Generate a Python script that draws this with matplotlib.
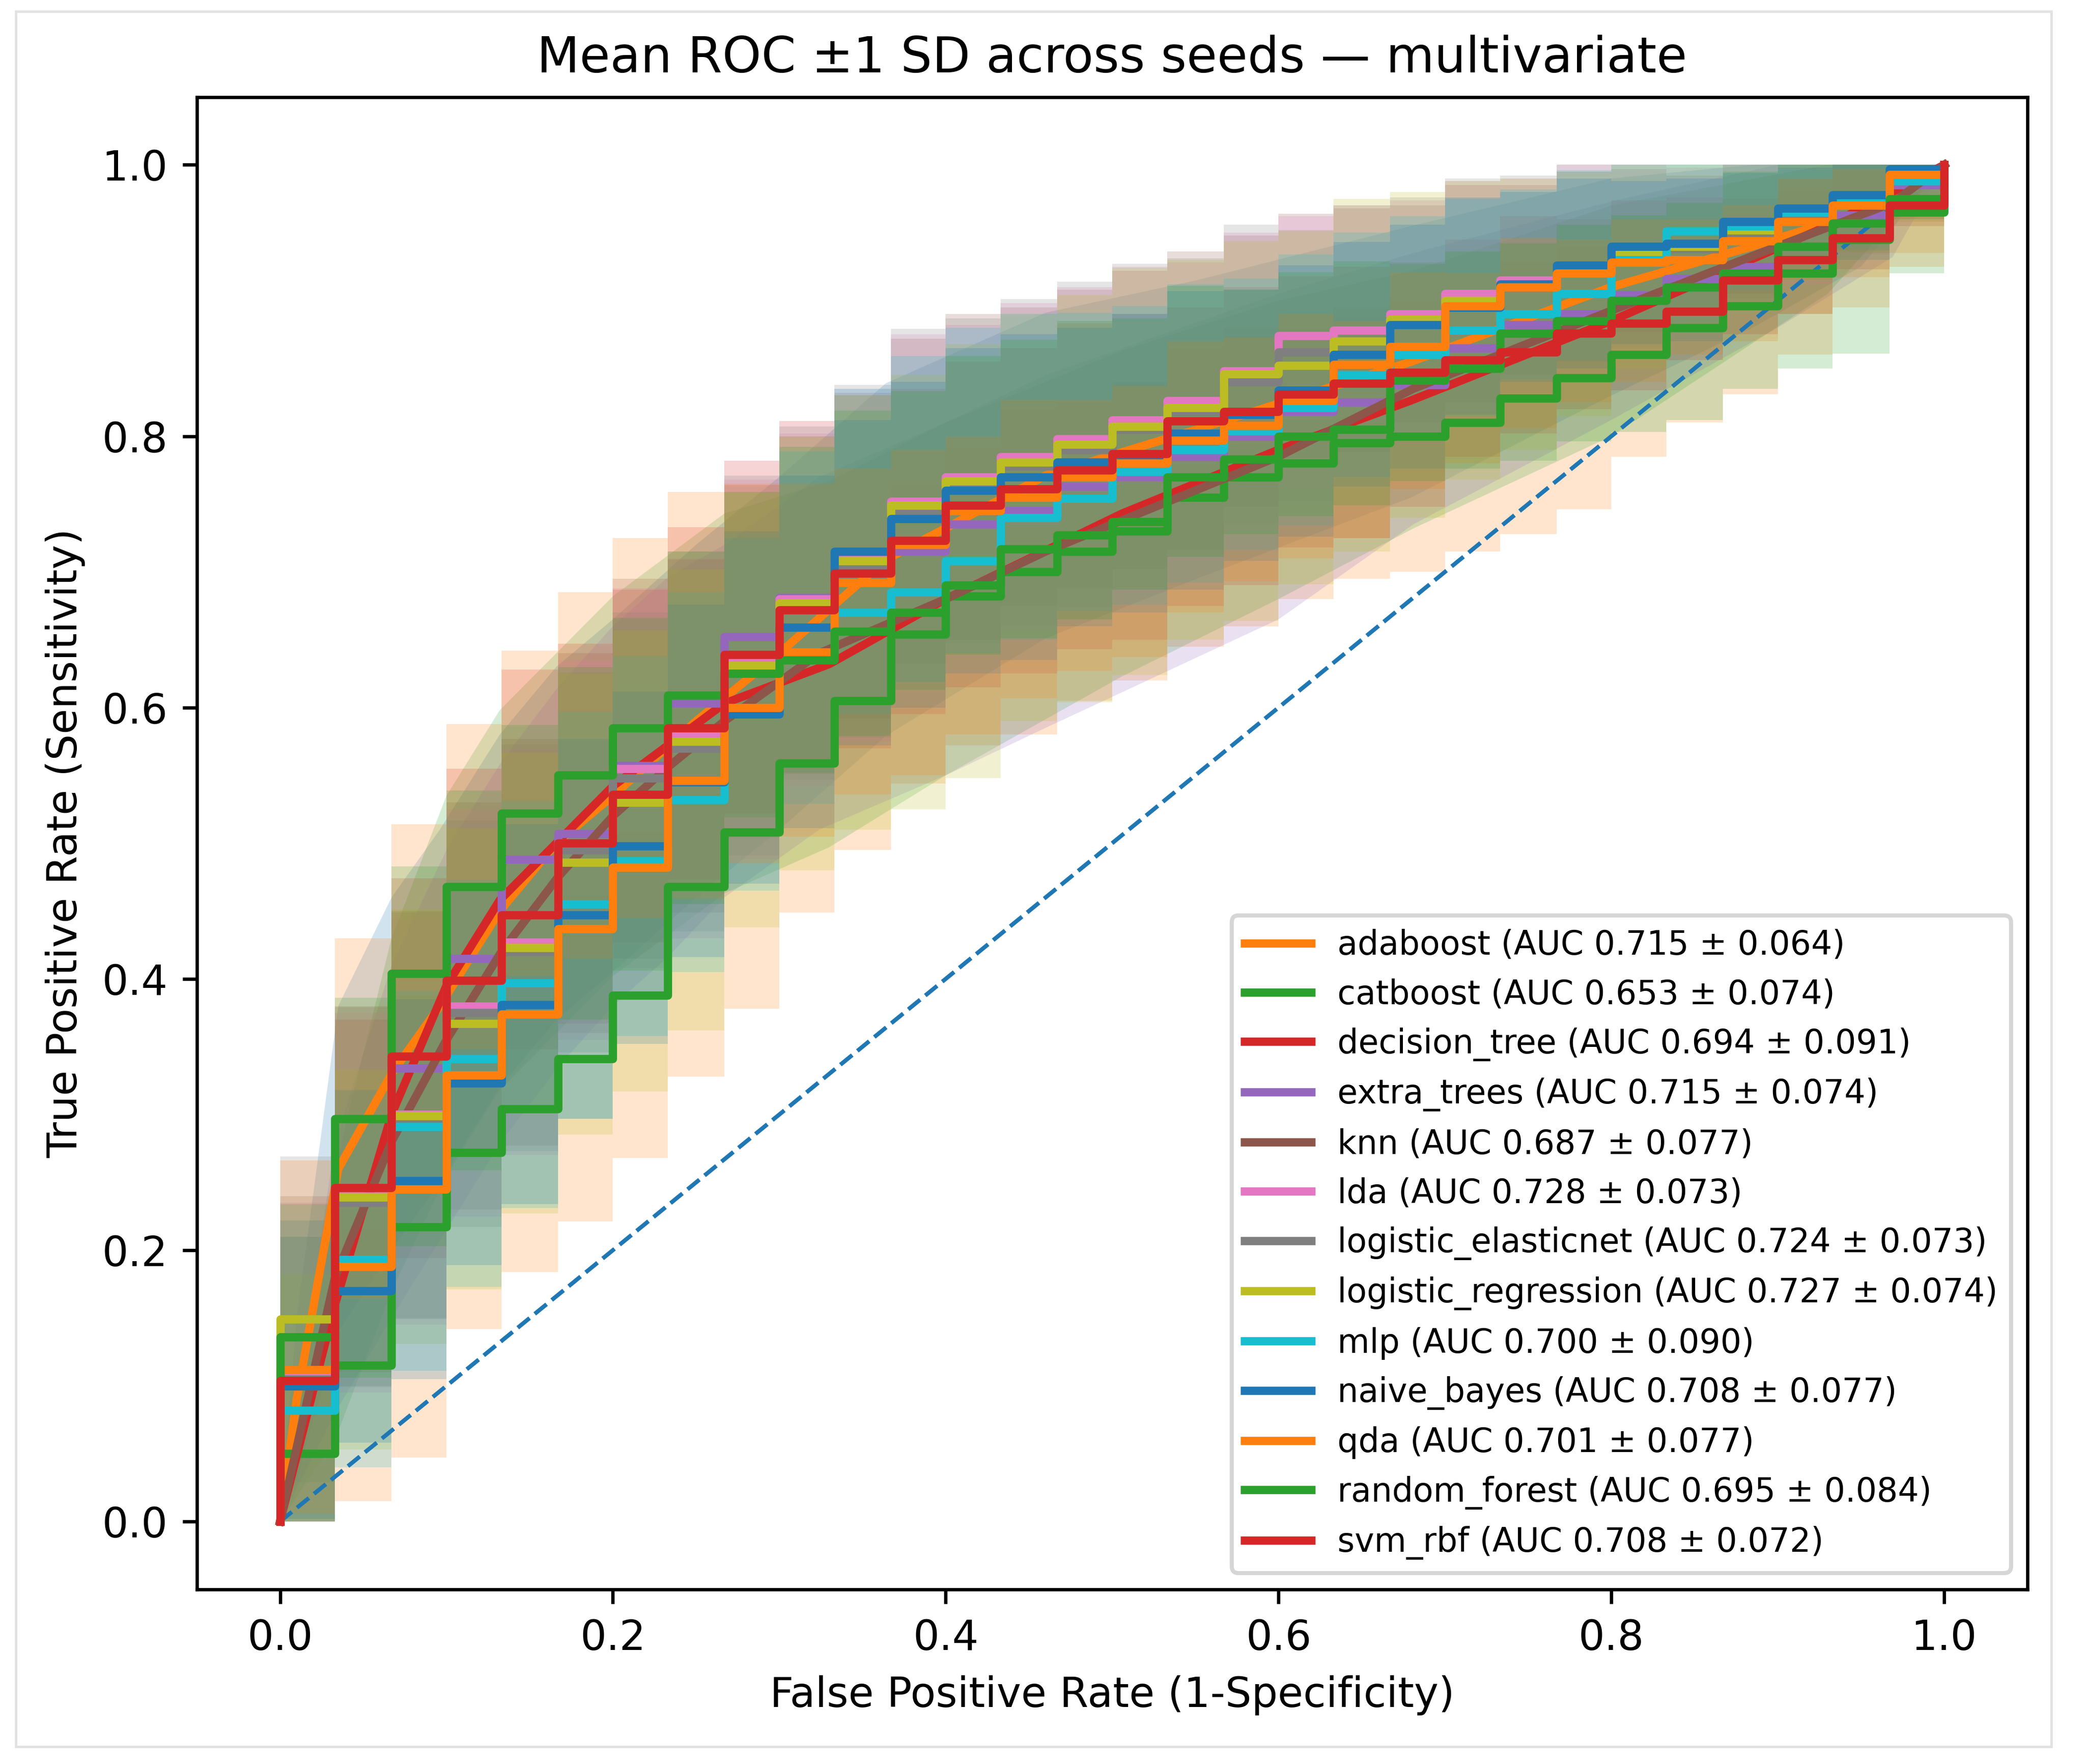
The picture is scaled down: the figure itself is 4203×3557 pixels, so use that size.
import numpy as np
import matplotlib
matplotlib.use("Agg")
import matplotlib.pyplot as plt
from matplotlib.patches import Rectangle

# common FPR grid of the stepped mean curves (left edge of each level, plus 1.0)
FPR_GRID = [0.000, 0.033, 0.067, 0.100, 0.133, 0.167, 0.200, 0.233, 0.267, 0.300,
            0.333, 0.367, 0.400, 0.433, 0.467, 0.500, 0.533, 0.567, 0.600, 0.633,
            0.667, 0.700, 0.733, 0.767, 0.800, 0.833, 0.867, 0.900, 0.933, 0.967, 1.000]

MODELS = ["adaboost", "catboost", "decision_tree", "extra_trees", "knn", "lda",
          "logistic_elasticnet", "logistic_regression", "mlp", "naive_bayes",
          "qda", "random_forest", "svm_rbf"]
AUC_MEAN = [0.715, 0.653, 0.694, 0.715, 0.687, 0.728, 0.724, 0.727, 0.700, 0.708, 0.701, 0.695, 0.708]
AUC_SD = [0.064, 0.074, 0.091, 0.074, 0.077, 0.073, 0.073, 0.074, 0.090, 0.077, 0.077, 0.084, 0.072]

# stepped mean TPR levels (one per FPR_GRID interval) and their SD
catboost_tpr = [0.050, 0.115, 0.217, 0.272, 0.304, 0.341, 0.388, 0.468, 0.508, 0.559,
                0.605, 0.654, 0.682, 0.700, 0.715, 0.730, 0.755, 0.770, 0.780, 0.795,
                0.800, 0.810, 0.828, 0.843, 0.860, 0.880, 0.896, 0.920, 0.945, 0.965]
catboost_sd = [0.05, 0.10, 0.17, 0.13, 0.12, 0.12, 0.12, 0.14, 0.13, 0.11,
               0.11, 0.11, 0.11, 0.12, 0.11, 0.11, 0.11, 0.11, 0.10, 0.10,
               0.10, 0.095, 0.10, 0.097, 0.075, 0.07, 0.065, 0.06, 0.05, 0.04]
extra_trees_tpr = [0.100, 0.240, 0.334, 0.415, 0.488, 0.507, 0.557, 0.603, 0.652, 0.681,
                   0.700, 0.715, 0.735, 0.745, 0.763, 0.770, 0.785, 0.800, 0.818, 0.825,
                   0.838, 0.865, 0.882, 0.890, 0.904, 0.916, 0.925, 0.940, 0.963, 0.985]
extra_trees_sd = [0.11, 0.13, 0.14, 0.14, 0.14, 0.14, 0.13, 0.13, 0.13, 0.13,
                  0.13, 0.12, 0.12, 0.12, 0.12, 0.12, 0.11, 0.11, 0.10, 0.10,
                  0.09, 0.08, 0.08, 0.07, 0.07, 0.06, 0.05, 0.05, 0.04, 0.03]
lda_tpr = [0.110, 0.240, 0.300, 0.380, 0.427, 0.500, 0.555, 0.579, 0.634, 0.680,
           0.712, 0.752, 0.770, 0.785, 0.798, 0.812, 0.826, 0.848, 0.874, 0.878,
           0.890, 0.905, 0.915, 0.925, 0.937, 0.942, 0.955, 0.966, 0.977, 0.990]
lda_sd = [0.13, 0.14, 0.15, 0.15, 0.15, 0.14, 0.14, 0.13, 0.13, 0.12,
          0.12, 0.12, 0.12, 0.11, 0.11, 0.11, 0.11, 0.10, 0.09, 0.09,
          0.08, 0.08, 0.07, 0.07, 0.06, 0.05, 0.05, 0.04, 0.04, 0.03]
logistic_elasticnet_tpr = [0.105, 0.235, 0.295, 0.375, 0.420, 0.495, 0.548, 0.570, 0.628, 0.672,
                           0.705, 0.745, 0.762, 0.778, 0.790, 0.805, 0.818, 0.840, 0.862, 0.870,
                           0.884, 0.898, 0.910, 0.920, 0.932, 0.938, 0.950, 0.962, 0.974, 0.988]
logistic_elasticnet_sd = [0.13, 0.14, 0.15, 0.15, 0.15, 0.14, 0.14, 0.14, 0.14, 0.13,
                          0.13, 0.13, 0.12, 0.12, 0.12, 0.12, 0.11, 0.11, 0.10, 0.10,
                          0.09, 0.09, 0.08, 0.08, 0.07, 0.06, 0.05, 0.05, 0.04, 0.03]
logistic_regression_tpr = [0.149, 0.239, 0.299, 0.367, 0.423, 0.486, 0.530, 0.575, 0.631, 0.677,
                           0.708, 0.749, 0.767, 0.781, 0.794, 0.807, 0.821, 0.846, 0.852, 0.870,
                           0.886, 0.900, 0.912, 0.922, 0.935, 0.940, 0.952, 0.965, 0.975, 0.990]
logistic_regression_sd = [0.12, 0.14, 0.15, 0.15, 0.15, 0.14, 0.14, 0.14, 0.14, 0.13,
                          0.13, 0.13, 0.12, 0.12, 0.12, 0.12, 0.11, 0.11, 0.10, 0.10,
                          0.09, 0.09, 0.08, 0.08, 0.07, 0.06, 0.05, 0.05, 0.04, 0.03]
mlp_tpr = [0.082, 0.193, 0.291, 0.341, 0.397, 0.455, 0.487, 0.532, 0.598, 0.640,
           0.670, 0.685, 0.708, 0.740, 0.754, 0.774, 0.790, 0.804, 0.821, 0.845,
           0.860, 0.878, 0.890, 0.905, 0.930, 0.951, 0.955, 0.965, 0.975, 0.988]
mlp_sd = [0.10, 0.14, 0.16, 0.17, 0.17, 0.17, 0.17, 0.17, 0.16, 0.16,
          0.16, 0.16, 0.16, 0.15, 0.15, 0.15, 0.14, 0.14, 0.13, 0.13,
          0.12, 0.11, 0.10, 0.09, 0.08, 0.07, 0.06, 0.05, 0.04, 0.03]
naive_bayes_tpr = [0.100, 0.170, 0.251, 0.323, 0.381, 0.447, 0.498, 0.545, 0.595, 0.659,
                   0.715, 0.739, 0.760, 0.770, 0.781, 0.786, 0.802, 0.816, 0.834, 0.860,
                   0.882, 0.895, 0.912, 0.926, 0.940, 0.942, 0.958, 0.968, 0.978, 0.997]
naive_bayes_sd = [0.11, 0.13, 0.14, 0.15, 0.15, 0.15, 0.14, 0.14, 0.13, 0.13,
                  0.12, 0.12, 0.12, 0.12, 0.11, 0.11, 0.11, 0.10, 0.10, 0.09,
                  0.08, 0.08, 0.07, 0.07, 0.06, 0.06, 0.05, 0.04, 0.04, 0.02]
qda_tpr = [0.112, 0.188, 0.245, 0.329, 0.374, 0.437, 0.482, 0.546, 0.600, 0.641,
           0.692, 0.720, 0.745, 0.755, 0.770, 0.780, 0.797, 0.808, 0.826, 0.853,
           0.866, 0.896, 0.910, 0.920, 0.928, 0.930, 0.944, 0.958, 0.970, 0.993]
qda_sd = [0.11, 0.13, 0.14, 0.14, 0.14, 0.14, 0.13, 0.13, 0.13, 0.13,
          0.12, 0.12, 0.12, 0.12, 0.11, 0.11, 0.11, 0.10, 0.10, 0.09,
          0.09, 0.08, 0.07, 0.07, 0.06, 0.06, 0.05, 0.04, 0.04, 0.02]
random_forest_tpr = [0.136, 0.297, 0.404, 0.468, 0.522, 0.550, 0.585, 0.609, 0.625, 0.635,
                     0.656, 0.670, 0.690, 0.717, 0.727, 0.737, 0.770, 0.783, 0.800, 0.805,
                     0.841, 0.850, 0.876, 0.885, 0.900, 0.910, 0.920, 0.940, 0.957, 0.975]
random_forest_sd = [0.13, 0.133, 0.11, 0.12, 0.12, 0.135, 0.14, 0.15, 0.14, 0.13,
                    0.12, 0.12, 0.11, 0.11, 0.10, 0.10, 0.10, 0.09, 0.09, 0.08,
                    0.08, 0.07, 0.07, 0.06, 0.06, 0.05, 0.05, 0.05, 0.04, 0.04]
svm_rbf_tpr = [0.104, 0.246, 0.343, 0.399, 0.447, 0.500, 0.536, 0.585, 0.639, 0.672,
               0.699, 0.723, 0.749, 0.761, 0.775, 0.787, 0.811, 0.818, 0.831, 0.839,
               0.847, 0.856, 0.862, 0.876, 0.883, 0.892, 0.915, 0.930, 0.946, 0.970]
svm_rbf_sd = [0.13, 0.14, 0.14, 0.14, 0.14, 0.13, 0.13, 0.13, 0.12, 0.12,
              0.12, 0.11, 0.11, 0.11, 0.11, 0.10, 0.10, 0.09, 0.09, 0.09,
              0.08, 0.08, 0.08, 0.08, 0.08, 0.08, 0.08, 0.08, 0.085, 0.05]

# piecewise-linear mean curves (few distinct scores -> straight segments)
adaboost_fpr = [0.0, 0.01, 0.035, 0.067, 0.096, 0.132, 0.166, 0.2, 0.25, 0.3, 0.364,
                0.46, 0.551, 0.68, 0.8, 0.885, 0.95, 1.0]
adaboost_tpr = [0.0, 0.09, 0.26, 0.33, 0.38, 0.45, 0.50, 0.535, 0.59, 0.64, 0.709,
                0.771, 0.805, 0.855, 0.91, 0.94, 0.965, 1.0]
adaboost_sd = [0.0, 0.06, 0.12, 0.13, 0.13, 0.13, 0.13, 0.13, 0.13, 0.13, 0.13,
               0.12, 0.11, 0.10, 0.08, 0.06, 0.04, 0.0]
decision_tree_fpr = [0.0, 0.033, 0.067, 0.1, 0.132, 0.2, 0.267, 0.33, 0.4, 0.506,
                     0.6, 0.681, 0.8, 0.93, 1.0]
decision_tree_tpr = [0.0, 0.16, 0.30, 0.395, 0.458, 0.542, 0.603, 0.632, 0.68, 0.743,
                     0.79, 0.827, 0.885, 0.955, 1.0]
decision_tree_sd = [0.0, 0.10, 0.13, 0.14, 0.14, 0.14, 0.14, 0.135, 0.13, 0.12,
                    0.11, 0.095, 0.085, 0.05, 0.0]
knn_fpr = [0.0, 0.033, 0.067, 0.1, 0.133, 0.167, 0.2, 0.233, 0.267, 0.324, 0.4,
           0.46, 0.6, 0.681, 0.803, 0.9, 0.969, 1.0]
knn_tpr = [0.0, 0.18, 0.28, 0.355, 0.42, 0.475, 0.52, 0.556, 0.59, 0.64, 0.68,
           0.715, 0.785, 0.835, 0.894, 0.94, 0.972, 1.0]
knn_sd = [0.0, 0.10, 0.13, 0.14, 0.14, 0.14, 0.14, 0.14, 0.13, 0.13, 0.13,
          0.13, 0.12, 0.10, 0.08, 0.06, 0.04, 0.0]

CHANCE = [0.0, 1.0]

STEPPED = {
    "catboost": (catboost_tpr, catboost_sd),
    "extra_trees": (extra_trees_tpr, extra_trees_sd),
    "lda": (lda_tpr, lda_sd),
    "logistic_elasticnet": (logistic_elasticnet_tpr, logistic_elasticnet_sd),
    "logistic_regression": (logistic_regression_tpr, logistic_regression_sd),
    "mlp": (mlp_tpr, mlp_sd),
    "naive_bayes": (naive_bayes_tpr, naive_bayes_sd),
    "qda": (qda_tpr, qda_sd),
    "random_forest": (random_forest_tpr, random_forest_sd),
    "svm_rbf": (svm_rbf_tpr, svm_rbf_sd),
}
SMOOTH = {
    "adaboost": (adaboost_fpr, adaboost_tpr, adaboost_sd),
    "decision_tree": (decision_tree_fpr, decision_tree_tpr, decision_tree_sd),
    "knn": (knn_fpr, knn_tpr, knn_sd),
}

fig, ax = plt.subplots(figsize=(4203 / 600, 3557 / 600), dpi=600)
fig.subplots_adjust(left=0.0944, right=0.9724, bottom=0.099, top=0.945)

ax.plot(CHANCE, CHANCE, "--", lw=1)

# bands take the fill colour cycle (starts at C0), lines the line cycle
for name, auc, sd_auc in zip(MODELS, AUC_MEAN, AUC_SD):
    label = f"{name} (AUC {auc:.3f} \u00b1 {sd_auc:.3f})"
    if name in STEPPED:
        tpr, sd = STEPPED[name]
        tpr = np.array(tpr)
        sd = np.array(sd)
        x_line = np.r_[FPR_GRID[0], FPR_GRID]
        y_line = np.r_[0.0, tpr, 1.0]
        ax.plot(x_line, y_line, drawstyle="steps-post", lw=2, label=label)
        lo = np.clip(np.r_[tpr - sd, tpr[-1] - sd[-1]], 0, 1)
        hi = np.clip(np.r_[tpr + sd, tpr[-1] + sd[-1]], 0, 1)
        ax.fill_between(FPR_GRID, lo, hi, step="post", alpha=0.2, lw=0)
    else:
        fpr, tpr, sd = SMOOTH[name]
        tpr = np.array(tpr)
        sd = np.array(sd)
        ax.plot(fpr, tpr, lw=2, label=label)
        ax.fill_between(fpr, np.clip(tpr - sd, 0, 1), np.clip(tpr + sd, 0, 1),
                        alpha=0.2, lw=0)

ax.set_xlabel("False Positive Rate (1-Specificity)")
ax.set_ylabel("True Positive Rate (Sensitivity)")
ax.set_title("Mean ROC \u00b11 SD across seeds \u2014 multivariate")
ax.legend(loc="lower right", fontsize=8)

# thin frame around the whole picture
fig.patches.append(Rectangle((0.0076, 0.0098), 0.9762, 0.9837, transform=fig.transFigure,
                             fill=False, edgecolor="#e2e2e2", lw=0.6))

plt.savefig("out.png", dpi=600)
print("saved out.png")
